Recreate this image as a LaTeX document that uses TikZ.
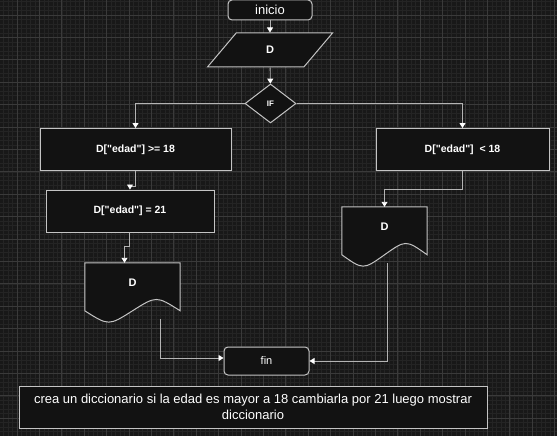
\documentclass[tikz,border=0pt]{standalone}
\usepackage{fontspec}
\setmainfont{Liberation Sans}[Ligatures=TeXOff]
\usepackage{tikz}
\usetikzlibrary{shapes.geometric,arrows.meta,positioning,calc}
\definecolor{canvasbg}{HTML}{181818}
\definecolor{gridminor}{HTML}{242424}
\definecolor{gridmajor}{HTML}{3A3A3A}
\definecolor{nodefill}{HTML}{121212}
\definecolor{linegray}{HTML}{C4C4C4}
\definecolor{arrowgray}{HTML}{B4B4B4}
\pgfdeclarelayer{canvas}
\pgfdeclarelayer{shapes}
\pgfsetlayers{canvas,shapes,main}
% outline of a document node (wavy bottom)
\newcommand{\docoutline}[1]{%
  \filldraw[draw=linegray, fill=nodefill, line width=1pt]
    (#1.north west) -- (#1.north east) -- ($(#1.south east)+(0,-8.4)$)
    .. controls ($(#1.south)!0.5!(#1.south east)+(0,-23.5)$) .. ($(#1.south)+(0,-8.4)$)
    .. controls ($(#1.south west)!0.5!(#1.south)+(0,6.7)$) .. ($(#1.south west)+(0,-8.4)$)
    -- cycle;}

\begin{document}
\begin{tikzpicture}[x=1pt, y=-1pt,
    startstop/.style={rectangle, rounded corners=4pt, draw=linegray, fill=nodefill, line width=1pt,
                      text=white, inner sep=0pt},
    box/.style={rectangle, draw=linegray, fill=nodefill, line width=1pt, text=white,
                minimum height=42pt, inner sep=0pt, font=\fontsize{10.5}{12}\selectfont\bfseries},
    iobox/.style={trapezium, trapezium left angle=66, trapezium right angle=114, trapezium stretches=true,
                  draw=linegray, fill=nodefill, line width=1pt, text=white, inner sep=0pt,
                  minimum width=125pt, minimum height=34pt, font=\fontsize{11}{13}\selectfont\bfseries},
    decision/.style={diamond, draw=linegray, fill=nodefill, line width=1pt, text=white, inner sep=0pt,
                     minimum width=51pt, minimum height=39pt, font=\fontsize{8}{9}\selectfont\bfseries},
    docbox/.style={rectangle, minimum height=56pt, inner sep=0pt, text=white, text height=8pt, text depth=18pt,
                   font=\fontsize{11}{13}\selectfont\bfseries},
    note/.style={rectangle, draw=linegray, fill=nodefill, line width=1pt, text=white, align=center,
                 minimum width=468pt, minimum height=42pt, inner sep=0pt, font=\fontsize{13}{15.5}\selectfont},
    arrow/.style={draw=arrowgray, line width=0.9pt, -{Triangle[width=6pt,length=5pt,fill=white,color=white]}}
]
\useasboundingbox (0,0) rectangle (557,436);
\begin{pgfonlayer}{canvas}
\fill[canvasbg] (0,0) rectangle (557,436);
\foreach \i in {-3,...,120} \draw[gridminor, line width=0.6pt] ({17+4.48*\i},0) -- ++(0,436);
\foreach \j in {-3,...,93} \draw[gridminor, line width=0.6pt] (0,{15+4.48*\j}) -- ++(557,0);
\foreach \k in {0,...,24} \draw[gridmajor, line width=0.8pt] ({17+22.4*\k},0) -- ++(0,436);
\foreach \k in {0,...,18} \draw[gridmajor, line width=0.8pt] (0,{15+22.4*\k}) -- ++(557,0);
\end{pgfonlayer}

% nodes
\node[startstop, minimum width=84pt, minimum height=20pt, font=\fontsize{13}{15}\selectfont] (inicio) at (270,10) {inicio};
\node[iobox] (datos) at (270,50) {D};
\node[decision] (cond) at (270.5,103.5) {IF};
\node[box, minimum width=191pt] (mayor) at (135.5,149.5) {D["edad"] >= 18};
\node[box, minimum width=173pt] (menor) at (462.5,149.5) {D["edad"]~ < 18};
\node[box, minimum width=168pt] (asigna) at (130,211) {D["edad"] = 21};
\node[docbox, minimum width=95pt] (docl) at (132.5,291) {D};
\node[docbox, minimum width=85pt] (docr) at (384.5,235) {D};
\node[startstop, minimum width=85pt, minimum height=28pt, font=\fontsize{11}{13}\selectfont] (fin) at (266.5,361) {fin};
\node[note] (nota) at (253,407) {crea un diccionario si la edad es mayor a 18 cambiarla por 21 luego mostrar\\diccionario};

\begin{pgfonlayer}{shapes}
\docoutline{docl}
\docoutline{docr}
\end{pgfonlayer}

% connectors
\draw[arrow] (inicio) -- (datos);
\draw[arrow] (datos) -- (cond);
\draw[arrow] (cond.west) -| (mayor.north);
\draw[arrow] (cond.east) -| (menor.north);
\draw[arrow] (mayor.south) -- ++(0,15) -| (asigna.north);
\draw[arrow] ([xshift=-1pt]asigna.south) -- ++(0,14) -| ([xshift=-8pt]docl.north);
\draw[arrow] (menor.south) -- ++(0,18) -| (docr.north);
\draw[arrow] ([xshift=27.5pt]docl.south) |- ([yshift=3pt]fin.west);
\draw[arrow] ([xshift=2.5pt]docr.south) |- (fin.east);
\end{tikzpicture}
\end{document}
